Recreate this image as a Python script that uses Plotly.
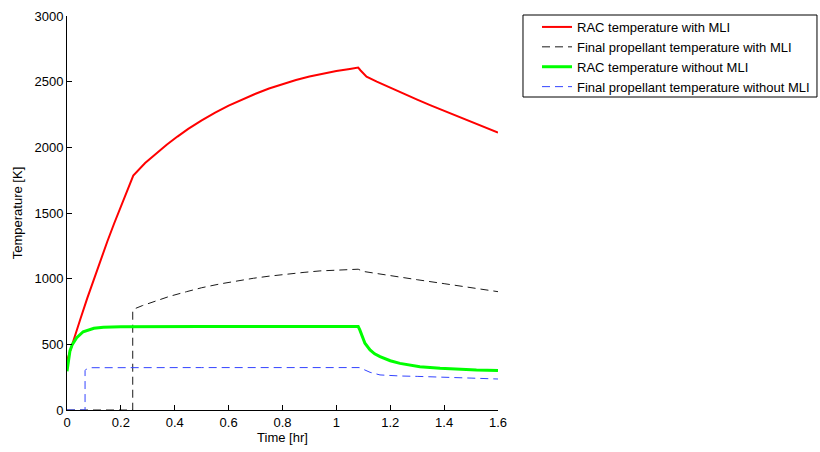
import plotly.graph_objects as go

# Time axis in hours, temperatures in kelvin
t_rac_mli = [0, 0.025, 0.05, 0.075, 0.1, 0.125, 0.15, 0.175, 0.2, 0.225, 0.246, 0.29, 0.33,
             0.37, 0.41, 0.45, 0.5, 0.55, 0.6, 0.65, 0.7, 0.75, 0.8, 0.85, 0.9, 0.95, 1.0,
             1.05, 1.081, 1.09, 1.1, 1.112, 1.15, 1.2, 1.25, 1.3, 1.35, 1.4, 1.45, 1.5,
             1.55, 1.6]
T_rac_mli = [375, 540, 695, 850, 1000, 1145, 1285, 1420, 1552, 1680, 1785, 1880, 1950,
             2020, 2082, 2140, 2205, 2265, 2318, 2365, 2408, 2448, 2483, 2513, 2539, 2562, 2581,
             2597, 2607, 2585, 2560, 2538, 2500, 2453, 2408, 2363, 2320, 2278, 2236, 2195,
             2154, 2112]

t_prop_mli = [0, 0.244, 0.244, 0.25, 0.28, 0.32, 0.38, 0.444, 0.5, 0.568, 0.63, 0.692, 0.75,
              0.815, 0.88, 0.939, 1.0, 1.063, 1.081, 1.1, 1.15, 1.2, 1.3, 1.4, 1.5, 1.6]
T_prop_mli = [0, 0, 755, 770, 795, 825, 865, 901, 931, 960, 984, 1003, 1019,
              1035, 1048, 1059, 1066, 1071, 1072, 1055, 1038, 1023, 992, 962, 932, 901]

t_rac_bare = [0, 0.005, 0.011, 0.02, 0.036, 0.06, 0.08, 0.1, 0.135, 0.2, 0.5, 0.8, 1.0,
              1.081, 1.087, 1.094, 1.106, 1.125, 1.142, 1.162, 1.2, 1.236, 1.27, 1.31,
              1.385, 1.45, 1.52, 1.6]
T_rac_bare = [295, 380, 450, 500, 550, 596, 612, 622, 630, 634, 635, 635, 635,
              635, 610, 571, 508, 457, 428, 406, 375, 355, 341, 330,
              318, 310, 304, 300]

t_prop_bare = [0, 0.067, 0.067, 0.072, 0.08, 0.09, 0.5, 1.0, 1.085, 1.1, 1.125, 1.162,
               1.2, 1.236, 1.3, 1.385, 1.5, 1.6]
T_prop_bare = [0, 0, 300, 312, 318, 322, 323, 323, 323, 310, 287, 267,
               262, 259, 256, 252, 243, 236]

x_ticks = [0, 0.2, 0.4, 0.6, 0.8, 1.0, 1.2, 1.4, 1.6]
x_labels = ["0", "0.2", "0.4", "0.6", "0.8", "1", "1.2", "1.4", "1.6"]
y_ticks = [0, 500, 1000, 1500, 2000, 2500, 3000]
y_labels = ["0", "500", "1000", "1500", "2000", "2500", "3000"]

FONT = "Liberation Sans, Arial, Helvetica, sans-serif"

fig = go.Figure()
fig.add_trace(go.Scatter(x=t_rac_mli, y=T_rac_mli, mode="lines",
                         name="RAC temperature with MLI",
                         line=dict(color="#ff0000", width=2)))
fig.add_trace(go.Scatter(x=t_prop_mli, y=T_prop_mli, mode="lines",
                         name="Final propellant temperature with MLI",
                         line=dict(color="#1a1a1a", width=1, dash="8px,5px")))
fig.add_trace(go.Scatter(x=t_rac_bare, y=T_rac_bare, mode="lines",
                         name="RAC temperature without MLI",
                         line=dict(color="#00ff00", width=3)))
fig.add_trace(go.Scatter(x=t_prop_bare, y=T_prop_bare, mode="lines",
                         name="Final propellant temperature without MLI",
                         line=dict(color="#3344ff", width=1, dash="8px,5px")))

axis_common = dict(showline=True, linecolor="black", linewidth=1, mirror=False,
                   ticks="inside", ticklen=5, tickcolor="black", showgrid=False,
                   zeroline=False, tickfont=dict(family=FONT, size=13, color="black"))

fig.update_xaxes(range=[0, 1.6], tickvals=x_ticks, ticktext=x_labels,
                 title=dict(text="Time [hr]", font=dict(family=FONT, size=13, color="black"),
                            standoff=4),
                 **axis_common)
fig.update_yaxes(range=[0, 3000], tickvals=y_ticks, ticktext=y_labels,
                 title=dict(text="Temperature [K]", font=dict(family=FONT, size=13, color="black"),
                            standoff=8),
                 **axis_common)

# Frame around the legend entries
fig.add_shape(type="rect", xref="paper", yref="paper",
              x0=1.058, x1=1.7401, y0=0.7944, y1=1.0025,
              line=dict(color="black", width=1), fillcolor="white", layer="below")

fig.update_layout(
    width=820, height=452,
    margin=dict(l=67, r=322, t=16, b=42, autoexpand=False),
    plot_bgcolor="white", paper_bgcolor="white",
    font=dict(family=FONT, size=13, color="black"),
    legend=dict(x=1.0905, y=1.0102, xanchor="left", yanchor="top",
                borderwidth=0, bgcolor="rgba(0,0,0,0)",
                font=dict(family=FONT, size=13, color="black"),
                tracegroupgap=0),
)

fig.write_html("out.html")
